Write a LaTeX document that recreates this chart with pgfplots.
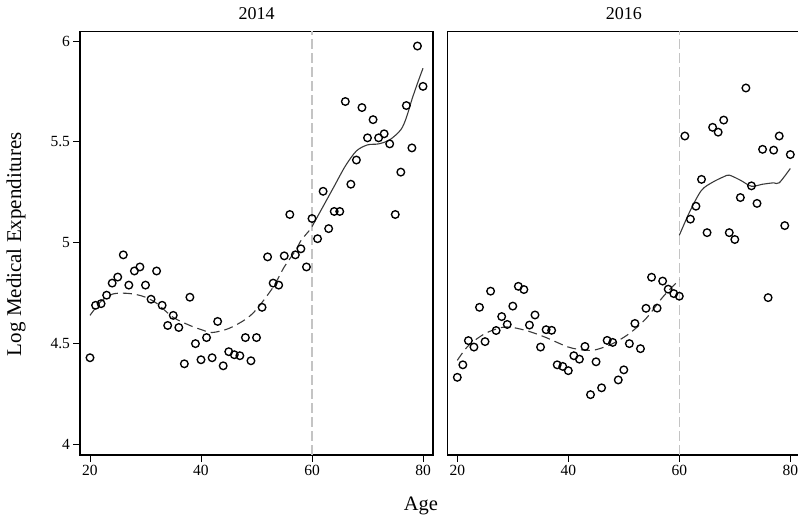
\documentclass[border=0pt]{standalone}
\usepackage{fontspec}
\setmainfont{Liberation Serif}
\usepackage{pgfplots}
\pgfplotsset{compat=1.18}
\definecolor{fitc}{HTML}{3A3A3A}
\definecolor{vlinec}{HTML}{C4C4C4}
\pgfplotsset{
  panel/.style={
    scale only axis, width=353bp, height=423.5bp,
    xmin=18.2, xmax=81.8, ymin=3.948, ymax=6.047,
    axis line style={line width=1.2bp, black},
    xtick={20,40,60,80},
    tick align=outside, tick pos=left,
    major tick length=6.5bp,
    every tick/.style={line width=0.9bp, black},
    tick label style={font=\fontsize{15.5bp}{18bp}\selectfont},
    /pgf/number format/assume math mode=true,
    title style={font=\fontsize{18bp}{21bp}\selectfont, at={(0.5,1)}, anchor=base, yshift=6.5bp, inner sep=0pt},
  },
  pts/.style={only marks, mark=o, mark size=3.8bp, mark options={line width=1.35bp, black}},
  fitd/.style={no marks, smooth, color=fitc, line width=1.1bp, dash pattern=on 9bp off 5bp},
  fits/.style={no marks, smooth, color=fitc, line width=1.1bp},
  vl/.style={no marks, color=vlinec, line width=1.5bp, dash pattern=on 10bp off 4bp},
}
\begin{document}
\begin{tikzpicture}
\begin{axis}[panel, at={(80bp,64bp)}, anchor=south west,
  title={2014},
  ytick={4,4.5,5,5.5,6},
  ylabel={Log Medical Expenditures},
  ylabel style={font=\fontsize{21bp}{24bp}\selectfont, at={(axis description cs:-0.181,0.498)}, anchor=center, inner sep=0pt},
  xlabel={Age},
  xlabel style={font=\fontsize{20.5bp}{24bp}\selectfont, at={(axis description cs:0.966,-0.099)}, anchor=north, inner sep=0pt},
]
\addplot[vl] coordinates {(60,3.948) (60,6.047)};
\addplot[fitd] coordinates {
(20,4.64) (22,4.71) (24,4.745) (26,4.75) (28,4.745) (30,4.73) (32,4.70) (35,4.63) (38,4.59) (40,4.57) (42,4.555) (45,4.575) (48,4.62) (50,4.67) (53,4.78) (55,4.88) (57,4.96) (58,5.01) (59.5,5.06)};
\addplot[fits] coordinates {
(60,5.08) (62,5.18) (64,5.28) (66,5.38) (68,5.455) (70,5.485) (72,5.49) (74,5.51) (76,5.56) (77,5.62) (78,5.71) (79,5.79) (80,5.865)};
\addplot[pts] coordinates {
(20,4.43) (21,4.69) (22,4.698) (23,4.74) (24,4.80) (25,4.83) (26,4.94) (27,4.79) (28,4.86) (29,4.88)
(30,4.79) (31,4.72) (32,4.86) (33,4.69) (34,4.59) (35,4.64) (36,4.58) (37,4.40) (38,4.73) (39,4.50)
(40,4.42) (41,4.53) (42,4.43) (43,4.61) (44,4.39) (45,4.46) (46,4.445) (47,4.44) (48,4.53) (49,4.415)
(50,4.53) (51,4.68) (52,4.93) (53,4.80) (54,4.79) (55,4.935) (56,5.14) (57,4.94) (58,4.97) (59,4.88)
(60,5.12) (61,5.02) (62,5.255) (63,5.07) (64,5.155) (65,5.155) (66,5.70) (67,5.29) (68,5.41) (69,5.67)
(70,5.52) (71,5.61) (72,5.52) (73,5.54) (74,5.49) (75,5.14) (76,5.35) (77,5.68) (78,5.47) (79,5.975) (80,5.775)};
\end{axis}
\begin{axis}[panel, at={(447.3bp,64bp)}, anchor=south west,
  title={2016},
  ytick=\empty,
]
\addplot[vl] coordinates {(60,3.948) (60,6.047)};
\addplot[fitd] coordinates {
(20,4.417) (22,4.49) (25,4.55) (28,4.58) (30,4.58) (33,4.56) (36,4.53) (40,4.483) (43,4.467) (45,4.47) (48,4.50) (51,4.55) (54,4.624) (57,4.73) (60,4.817)};
\addplot[fits] coordinates {
(60,5.037) (62,5.161) (64,5.26) (66,5.30) (68,5.327) (69,5.335) (71,5.31) (73,5.28) (75,5.29) (77,5.297) (78,5.297) (80,5.368)};
\addplot[pts] coordinates {
(20,4.333) (21,4.395) (22,4.515) (23,4.483) (24,4.68) (25,4.51) (26,4.76) (27,4.565) (28,4.634) (29,4.595)
(30,4.686) (31,4.784) (32,4.768) (33,4.592) (34,4.642) (35,4.483) (36,4.569) (37,4.566) (38,4.395) (39,4.387)
(40,4.366) (41,4.44) (42,4.423) (43,4.486) (44,4.247) (45,4.41) (46,4.281) (47,4.516) (48,4.506) (49,4.32)
(50,4.37) (51,4.50) (52,4.60) (53,4.475) (54,4.675) (55,4.829) (56,4.676) (57,4.81) (58,4.77) (59,4.748)
(60,4.735) (61,5.529) (62,5.117) (63,5.181) (64,5.314) (65,5.05) (66,5.572) (67,5.548) (68,5.608) (69,5.05)
(70,5.016) (71,5.224) (72,5.767) (73,5.282) (74,5.195) (75,5.463) (76,4.728) (77,5.459) (78,5.529) (79,5.085) (80,5.437)};
\end{axis}
\pgfresetboundingbox
\path[use as bounding box] (0,0) rectangle (798bp,519bp);
\end{tikzpicture}
\end{document}
